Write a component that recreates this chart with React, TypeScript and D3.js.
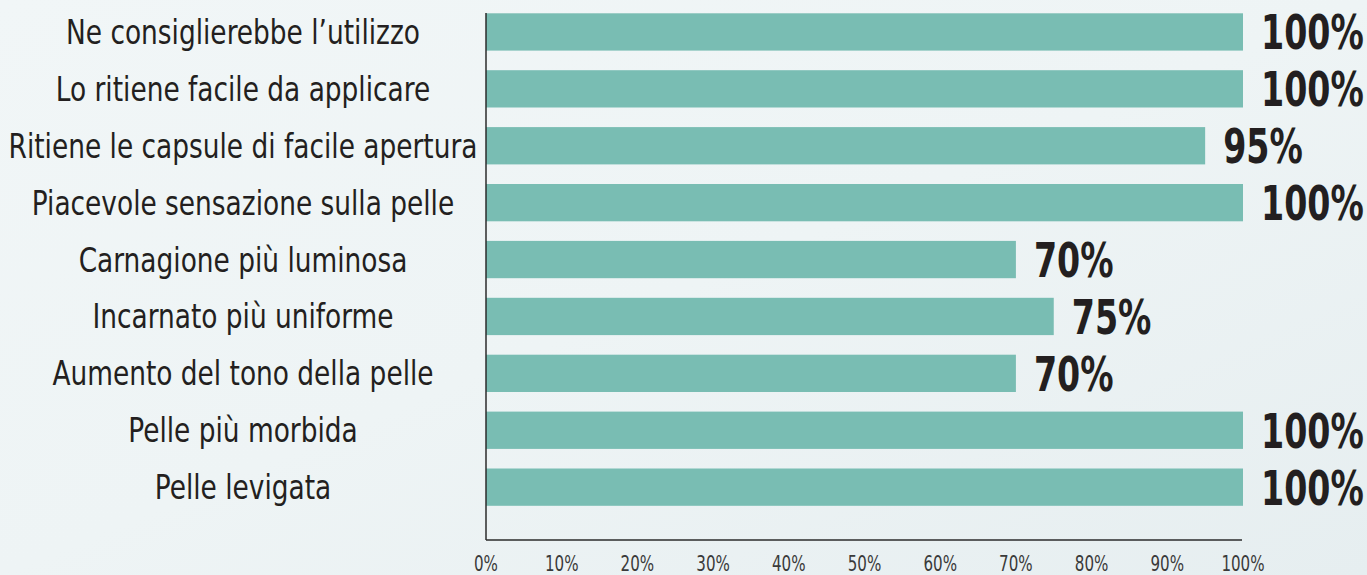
import React from "react";
import * as d3 from "d3";

const categories = [
  "Ne consiglierebbe l’utilizzo",
  "Lo ritiene facile da applicare",
  "Ritiene le capsule di facile apertura",
  "Piacevole sensazione sulla pelle",
  "Carnagione più luminosa",
  "Incarnato più uniforme",
  "Aumento del tono della pelle",
  "Pelle più morbida",
  "Pelle levigata",
];
const values = [100, 100, 95, 100, 70, 75, 70, 100, 100];
const xTicks = [0, 10, 20, 30, 40, 50, 60, 70, 80, 90, 100];

const W = 1367;
const H = 575;
const x0 = 486;
const x1 = 1243;
const axisTop = 13;
const axisBottom = 540;

export default function App() {
  const x = d3.scaleLinear().domain([0, 100]).range([x0, x1]);
  const step = 56.9;
  const barH = 37.3;
  const y = d3
    .scaleBand<string>()
    .domain(categories)
    .range([13.3, 13.3 + 8 * step + barH])
    .paddingInner(1 - barH / step)
    .paddingOuter(0);

  const font = "'DejaVu Sans Condensed', 'DejaVu Sans', sans-serif";

  return (
    <svg
      width={W}
      height={H}
      style={{ position: "fixed", left: 0, top: 0, display: "block" }}
    >
      <defs>
        <linearGradient id="bg" x1="0" y1="0" x2="1" y2="1">
          <stop offset="0" stopColor="#f1f6f7" />
          <stop offset="0.5" stopColor="#eef4f5" />
          <stop offset="1" stopColor="#e6eef0" />
        </linearGradient>
      </defs>
      <rect x={0} y={0} width={W} height={H} fill="url(#bg)" />

      {categories.map((c, i) => {
        const yy = y(c)!;
        const bw = y.bandwidth();
        const cy = yy + bw / 2;
        return (
          <g key={c}>
            <rect
              x={x(0)}
              y={yy}
              width={x(values[i]) - x(0)}
              height={bw}
              fill="#79bdb3"
            />
            <text
              transform={`translate(243,${cy + 12}) scale(0.89,1)`}
              textAnchor="middle"
              fontFamily={font}
              fontSize={33}
              fill="#231f20"
            >
              {c}
            </text>
            <text
              transform={`translate(${x(values[i]) + 18},${cy + 17.5}) scale(0.77,1)`}
              textAnchor="start"
              fontFamily={font}
              fontWeight="bold"
              fontSize={48}
              fill="#231f20"
            >
              {values[i] + "%"}
            </text>
          </g>
        );
      })}

      <line x1={x0} y1={axisTop} x2={x0} y2={axisBottom} stroke="#2b2b2b" strokeWidth={1.5} />
      <line x1={x0} y1={axisBottom} x2={1242} y2={axisBottom} stroke="#2b2b2b" strokeWidth={1.5} />

      {xTicks.map((t) => (
        <text
          key={t}
          transform={`translate(${x(t)},571) scale(0.8,1)`}
          textAnchor="middle"
          fontFamily={font}
          fontSize={21}
          fill="#3a3a3a"
        >
          {t + "%"}
        </text>
      ))}
    </svg>
  );
}
